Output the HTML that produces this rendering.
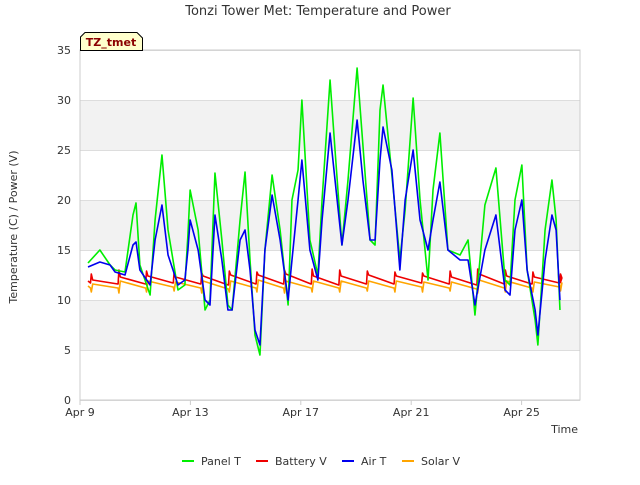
<!DOCTYPE html>
<html><head><meta charset="utf-8"><style>
body{margin:0;background:#fff;font-family:"Liberation Sans",sans-serif}
svg text{font-family:"DejaVu Sans","Liberation Sans",sans-serif}
</style></head><body>
<svg id="c" width="640" height="480">
<text x="318" y="15" text-anchor="middle" font-size="13" fill="#333">Tonzi Tower Met: Temperature and Power</text>
<text transform="translate(17,227) rotate(-90)" text-anchor="middle" font-size="11" fill="#333">Temperature (C) / Power (V)</text>
<text x="578" y="433" text-anchor="end" font-size="11" fill="#333">Time</text>
<g id="bands"></g><g id="ticks"></g><g id="series"></g>
<rect x="80" y="50" width="500" height="350" fill="none" stroke="#ccc"/>
<g>
<path d="M80.5,50.5 V37 L85,32.5 H137 L142.5,38 V50.5 Z" fill="#ffffcc" stroke="#000"/>
<text x="111" y="46" text-anchor="middle" font-size="11" font-weight="bold" fill="#8b0000">TZ_tmet</text></g>
<g id="legend"></g>
</svg>
<script>
const xTickLabels=["Apr 9","Apr 13","Apr 17","Apr 21","Apr 25"];
const xTickDays=[0,4,8,12,16];
const yTicks=[0,5,10,15,20,25,30,35];
const panelDays=[0.29,0.72,1.09,1.27,1.63,1.92,2.03,2.17,2.54,2.72,2.97,3.19,3.55,3.80,3.91,3.99,4.28,4.53,4.71,4.89,5.14,5.36,5.51,5.80,5.98,6.16,6.34,6.52,6.70,6.96,7.25,7.54,7.68,7.90,8.04,8.33,8.62,8.77,9.06,9.24,9.49,9.71,10.04,10.25,10.51,10.69,10.87,10.98,11.30,11.59,11.78,12.07,12.32,12.61,12.79,13.04,13.33,13.77,14.06,14.31,14.67,15.07,15.40,15.58,15.76,16.01,16.20,16.49,16.59,16.85,17.10,17.25,17.39];
const panelT=[13.7,15,13.5,13,12.8,18.5,19.7,13.5,10.5,18,24.5,17,11,11.5,16.5,21,17,9,10,22.7,16,9.5,9,18,22.8,14,6.5,4.5,15,22.5,17,9.5,20,23,30,16,12.5,20,32,25,15.5,22,33.2,25.5,16,15.5,29,31.5,22.5,14,19,30.2,20,12,21,26.7,15,14.5,16,8.5,19.5,23.2,12,11.5,20,23.5,13,8,5.5,17,22,18,9];
const airT=[13.3,13.8,13.5,12.8,12.5,15.5,15.8,13,11.5,16,19.5,14.5,11.5,12,15,18,15,10,9.5,18.5,14,9,9,16,17,13,7,5.5,15,20.5,16,10,14,20,24,15,12,18,26.7,22,15.5,20,28,22,16,16,24,27.3,23,13,20,25,18,15,18,21.8,15,14,14,9.5,15,18.5,11,10.5,17,20,13,9,6.5,14,18.5,17,10];
const batHigh=[12.0,12.3,12.4,12.3,12.4,12.5,12.5,12.6,12.4,12.4,12.5,12.4,12.4,12.3,12.6,12.4,12.3,12.2];
const batLow=[11.7,11.6,11.6,11.7,11.6,11.5,11.6,11.6,11.6,11.5,11.6,11.6,11.7,11.6,11.5,11.6,11.6,11.7];
const batSpike=[12.6,13.0,12.9,12.8,12.7,12.9,12.8,13.0,13.1,13.0,12.9,12.8,12.7,12.9,13.1,13.0,12.8,12.6];
const solHigh=[11.6,11.9,11.9,11.8,11.9,11.9,12.0,11.9,11.9,11.9,11.9,11.9,11.8,11.8,12.0,11.9,11.8,11.7];
const solLow=[11.2,11.2,11.2,11.3,11.2,11.1,11.2,11.2,11.2,11.2,11.2,11.2,11.3,11.2,11.1,11.2,11.2,11.3];
const solDip=[10.8,10.7,10.8,10.9,10.7,10.8,10.8,10.7,10.8,10.8,10.9,10.8,10.8,10.9,10.7,10.8,10.8,10.9];
const X=d=>80+d*27.6, Y=v=>400-v*10;
const NS="http://www.w3.org/2000/svg";
function mk(tag,attrs,parent){const e=document.createElementNS(NS,tag);for(const k in attrs)e.setAttribute(k,attrs[k]);parent.appendChild(e);return e;}
const bands=document.getElementById('bands');
for(let i=0;i<yTicks.length-1;i++){if(i%2===1){const r=mk('rect',{x:80,y:Y(yTicks[i+1]),width:500,height:Y(yTicks[i])-Y(yTicks[i+1]),fill:'#f2f2f2'},bands);

}}
const ticks=document.getElementById('ticks');
yTicks.forEach(v=>{const l=mk('line',{x1:80,x2:580,y1:Y(v)+0.5,y2:Y(v)+0.5,stroke:'#ddd'},ticks);


const t=mk('text',{x:71,y:Y(v)+4,'text-anchor':'end','font-size':11,fill:'#333'},ticks);t.textContent=v;

});
xTickDays.forEach((d,i)=>{mk('line',{x1:X(d),x2:X(d),y1:400,y2:405,stroke:'#ccc'},ticks);
const t=mk('text',{x:X(d),y:416,'text-anchor':'middle','font-size':11,fill:'#333'},ticks);t.textContent=xTickLabels[i];

});
function line(days,vals,color,name){const p=mk('polyline',{points:days.map((d,i)=>X(d)+','+Y(vals[i])).join(' '),fill:'none',stroke:color,'stroke-width':1.6,'stroke-linejoin':'round'},document.getElementById('series'));

}
function daily(high,low,spike){const d=[],v=[];d.push(0.29);v.push(low[0]+0.2);
for(let k=0;k<high.length;k++){const t=k+0.38;if(t>17.4)break;
d.push(t);v.push(low[k]);d.push(t+0.03);v.push(spike[k]);d.push(t+0.08);v.push(high[k]);
const e=Math.min(t+0.99,17.4);d.push(e);v.push(low[Math.min(k+1,low.length-1)]);}
return [d,v];}
const s=daily(solHigh,solLow,solDip); line(s[0],s[1],'#ffa500','solar-v-line');
const b=daily(batHigh,batLow,batSpike); line(b[0],b[1],'#ee0000','battery-v-line');
line(panelDays,panelT,'#00ee00','panel-t-line');
line(panelDays,airT,'#0000ee','air-t-line');
const leg=[["Panel T","#00ee00",182],["Battery V","#ee0000",256],["Air T","#0000ee",342],["Solar V","#ffa500",402]];
const lg=document.getElementById('legend');
leg.forEach(([n,c,x])=>{const g=mk('g',{},lg);


mk('line',{x1:x,x2:x+12,y1:461,y2:461,stroke:c,'stroke-width':2},g);
const t=mk('text',{x:x+19,y:465,'font-size':11,fill:'#333'},g);t.textContent=n;});
</script>
</body></html>
